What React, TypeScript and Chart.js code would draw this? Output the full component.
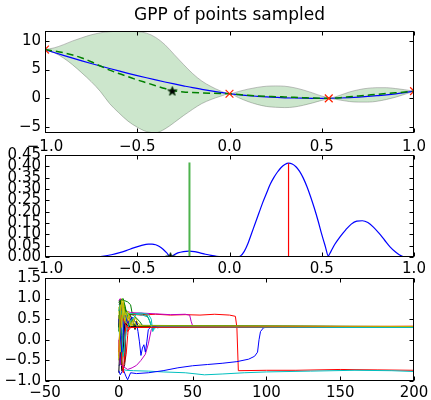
import React, { useEffect, useRef } from "react";
import { Chart, registerables } from "chart.js";

Chart.register(...registerables);

const FONT = "'DejaVu Sans', sans-serif";

// ---------- panel 1: GP posterior ----------
const gridX = [-1, -0.95, -0.9, -0.85, -0.8, -0.75, -0.7, -0.65, -0.6, -0.55, -0.5, -0.45, -0.4, -0.35, -0.3, -0.25, -0.2, -0.15, -0.1, -0.05, 0,
  0.05, 0.1, 0.15, 0.2, 0.25, 0.3, 0.35, 0.4, 0.45, 0.5, 0.55, 0.6, 0.65, 0.7, 0.75, 0.8, 0.85, 0.9, 0.95, 1];
const trueF = [8.45, 7.94, 7.45, 6.97, 6.5, 6.04, 5.6, 5.17, 4.75, 4.34, 3.95, 3.57, 3.2, 2.84, 2.5, 2.17, 1.85, 1.57, 1.3, 1.04, 0.8,
  0.64, 0.47, 0.35, 0.25, 0.17, 0.1, 0.06, 0.03, 0.01, 0.0, 0.02, 0.06, 0.13, 0.22, 0.33, 0.46, 0.6, 0.77, 0.98, 1.25];
const gpMean = [8.45, 8.2, 7.9, 7.5, 7.0, 6.35, 5.6, 4.9, 4.3, 3.75, 3.2, 2.7, 2.2, 1.7, 1.3, 1.1, 1.0, 0.95, 0.9, 0.85, 0.8,
  0.66, 0.52, 0.42, 0.35, 0.3, 0.24, 0.18, 0.12, 0.06, 0.02, 0.03, 0.12, 0.27, 0.42, 0.56, 0.7, 0.83, 0.96, 1.1, 1.25];
const gpUpper = [8.45, 8.75, 9.3, 9.95, 10.5, 11.0, 11.35, 11.55, 11.6, 11.6, 11.55, 11.3, 10.55, 9.3, 7.6, 5.9, 4.3, 3.0, 2.05, 1.3, 0.8,
  1.2, 1.6, 1.9, 2.1, 2.15, 2.1, 1.85, 1.45, 0.95, 0.4, 0.12, 0.55, 1.1, 1.5, 1.75, 1.85, 1.85, 1.7, 1.5, 1.25];
const gpLower = [8.45, 7.9, 7.0, 5.8, 4.4, 2.9, 1.2, -0.9, -2.5, -3.95, -5.0, -5.75, -5.95, -5.3, -4.2, -3.0, -1.9, -0.9, -0.2, 0.35, 0.8,
  0.1, -0.55, -1.05, -1.4, -1.55, -1.6, -1.5, -1.2, -0.8, -0.35, -0.06, -0.3, -0.55, -0.65, -0.65, -0.5, -0.2, 0.2, 0.7, 1.25];
const sampledX = [-1, 0, 0.538, 1];
const sampledY = [8.45, 0.8, 0.0, 1.25];
const nextX = [-0.31];
const nextY = [1.3];
const topXTicks = [-1, -0.5, 0, 0.5, 1];
const topYTicks = [-5, 0, 5, 10];

// ---------- panel 2: acquisition ----------
const acqX = [-1, -0.9, -0.8, -0.72, -0.68, -0.64, -0.6, -0.56, -0.52, -0.48, -0.44, -0.42, -0.4, -0.38, -0.36, -0.34, -0.32, -0.3, -0.28,
  -0.25, -0.22, -0.19, -0.16, -0.13, -0.1, -0.07, -0.04, 0, 0.04, 0.06, 0.08, 0.1, 0.12, 0.14, 0.16, 0.18, 0.2, 0.22, 0.24, 0.26, 0.28,
  0.3, 0.32, 0.34, 0.36, 0.38, 0.4, 0.42, 0.44, 0.46, 0.48, 0.5, 0.52, 0.535, 0.55, 0.57, 0.6, 0.63, 0.66, 0.69, 0.72, 0.75, 0.78, 0.81,
  0.84, 0.87, 0.9, 0.92, 0.94, 0.96, 1];
const acqY = [0, 0, 0, 0.001, 0.004, 0.01, 0.018, 0.028, 0.04, 0.05, 0.057, 0.057, 0.054, 0.046, 0.034, 0.018, 0.0, 0.01, 0.018,
  0.024, 0.026, 0.024, 0.018, 0.012, 0.007, 0.003, 0.001, 0, 0, 0.005, 0.025, 0.06, 0.105, 0.15, 0.195, 0.24, 0.28, 0.32, 0.35, 0.375, 0.395,
  0.408, 0.414, 0.41, 0.398, 0.378, 0.348, 0.31, 0.265, 0.215, 0.16, 0.1, 0.045, 0.005, 0.025, 0.055, 0.09, 0.12, 0.145, 0.158, 0.16, 0.152, 0.132, 0.105,
  0.075, 0.045, 0.022, 0.01, 0.002, 0, 0];
const greenLineX = -0.217;
const greenLineTop = 0.417;
const redLineX = 0.32;
const redLineTop = 0.414;
const acqStarX = [-0.32];
const acqStarY = [0];
const midYTicks = [0, 0.05, 0.1, 0.15, 0.2, 0.25, 0.3, 0.35, 0.4, 0.45];

// ---------- panel 3: optimiser runs ----------
const run01 = [[0, -0.62], [1, -0.6], [2, 0.9], [3, 0.2], [4, 0.6], [5, 0.45], [7, 0.55], [9, 0.38], [11, 0.33], [14, 0.32], [200, 0.32]];
const run02 = [[0, 0.9], [1, 0.98], [2, 0.96], [4, 0.95], [6, 0.92], [8, 0.85], [9, 0.65], [12, 0.63], [16, 0.62], [19, 0.6], [21, 0.45], [22, 0.33], [200, 0.32]];
const run03 = [[0, -0.4], [1, 0.7], [2, 0.2], [3, -0.3], [4, -0.55], [5, -0.35], [6, 0.1], [7, 0.5], [8, 0.62], [15, 0.6], [25, 0.62], [35, 0.6], [45, 0.61],
  [55, 0.6], [65, 0.62], [75, 0.6], [79, 0.57], [80, 0.3], [81, -0.75], [100, -0.74], [120, -0.74], [150, -0.72], [175, -0.73], [200, -0.74]];
const run04 = [[0, 0.85], [1, 0.9], [2, -0.7], [3, -0.72], [5, -0.74], [10, -0.75], [20, -0.76], [30, -0.78], [45, -0.8], [58, -0.85], [70, -0.83],
  [85, -0.8], [100, -0.78], [130, -0.76], [160, -0.74], [185, -0.75], [200, -0.77]];
const run05 = [[0, 0.95], [1, 1.0], [3, 0.8], [5, 0.7], [8, 0.66], [15, 0.65], [25, 0.63], [35, 0.61], [45, 0.62], [48, 0.6], [49, 0.45], [50, 0.34], [200, 0.32]];
const run06 = [[0, -0.5], [1, 0.3], [2, 1.0], [3, 0.5], [4, 0.85], [5, 0.35], [6, 0.6], [8, 0.4], [10, 0.36], [13, 0.33], [200, 0.32]];
const run07 = [[0, -0.8], [1, 0.1], [2, -0.75], [3, -0.7], [4, -0.6], [5, 0.5], [6, 0.6], [8, 0.58], [10, 0.4], [11, 0.25], [12, 0.45], [13, 0.32], [200, 0.32]];
const run08 = [[0, -0.75], [1, -0.85], [3, -0.72], [5, -0.9], [6, -0.97], [8, -0.8], [12, -0.82], [20, -0.8], [30, -0.75], [40, -0.68], [50, -0.63],
  [60, -0.6], [70, -0.57], [80, -0.53], [88, -0.47], [92, -0.4], [94, -0.3], [95, 0.0], [96, 0.2], [98, 0.29], [102, 0.32], [200, 0.32]];
const run09 = [[0, 0.6], [1, 0.2], [2, -0.6], [3, 0.1], [4, 0.8], [5, 0.65], [7, 0.3], [9, 0.5], [11, 0.33], [200, 0.32]];
const run10 = [[0, 0.35], [1, 0.9], [2, -0.5], [3, -0.8], [4, -0.3], [5, 0.6], [6, 0.2], [8, 0.3], [200, 0.32]];
const run11 = [[0, 0.4], [1, -0.2], [2, 0.7], [4, 0.3], [6, 0.64], [10, 0.63], [15, 0.65], [20, 0.62], [22, 0.5], [23, 0.2], [24, 0.35], [26, 0.29], [28, 0.3], [170, 0.3], [200, 0.31]];
const run12 = [[0, 0.0], [1, -0.6], [3, -0.65], [6, -0.72], [9, -0.68], [12, -0.62], [15, -0.5], [18, -0.35], [20, -0.1], [22, 0.25], [24, 0.32], [200, 0.32]];
const run13 = [[0, 0.8], [1, -0.3], [2, 0.55], [3, 0.9], [5, 0.4], [7, 0.65], [9, 0.3], [11, 0.55], [13, 0.4], [16, 0.33], [200, 0.32]];
const run14 = [[0, 0.3], [1, 0.95], [2, 0.1], [3, -0.3], [4, 0.4], [6, 0.35], [8, 0.32], [200, 0.32]];
const run15 = [[0, 0.5], [2, -0.3], [4, 0.6], [6, 0.4], [9, 0.55], [12, 0.4], [13, 0.2], [14, -0.05], [15, -0.38], [16, -0.2], [17, -0.12], [18, -0.3],
  [19, -0.05], [20, 0.25], [22, 0.32], [200, 0.32]];
const run16 = [[0, 0.2], [1, 0.95], [3, 1.0], [5, 0.7], [7, 0.62], [10, 0.6], [14, 0.45], [16, 0.35], [200, 0.32]];
const run17 = [[0, 0.7], [1, 0.85], [3, -0.4], [5, 0.2], [8, 0.45], [12, 0.62], [16, 0.6], [20, 0.55], [23, 0.22], [25, 0.3], [27, 0.31], [200, 0.3]];
const run18 = [[0, -0.3], [1, 0.5], [2, 0.6], [4, 0.4], [6, 0.3], [200, 0.33]];
const run19 = [[0, -0.45], [1, 0.85], [2, 0.3], [3, 0.95], [4, 0.45], [6, 0.7], [8, 0.35], [10, 0.5], [12, 0.34], [200, 0.325]];
const runs = [run01, run02, run03, run04, run05, run06, run07, run08, run09, run10, run11, run12, run13, run14, run15, run16, run17, run18, run19];
const runColors = ["#0000ff", "#008000", "#ff0000", "#00bfbf", "#bf00bf", "#bfbf00", "#000000", "#0000ff", "#008000", "#ff0000",
  "#00bfbf", "#bf00bf", "#bfbf00", "#000000", "#0000ff", "#008000", "#00bfbf", "#ff0000", "#bfbf00"];
const botXTicks = [-50, 0, 50, 100, 150, 200];
const botYTicks = [-1, -0.5, 0, 0.5, 1, 1.5];

// ---------- helpers ----------
const fmt = (v: number, d: number) => (v < -1e-9 ? "\u2212" : "") + Math.abs(v).toFixed(d);
const TICK_SIZE = 15;

function axis(min: number, max: number, ticks: number[], dec: number, pad: number, size: number, horizontal: boolean) {
  return {
    type: "linear",
    min,
    max,
    grid: { display: false, drawTicks: false },
    border: { display: false },
    ticks: {
      color: "#000",
      font: { family: FONT, size: TICK_SIZE },
      padding: pad,
      autoSkip: false,
      maxRotation: 0,
      minRotation: 0,
      callback: (v: number) => fmt(v, dec),
    },
    afterBuildTicks: (s: any) => {
      s.ticks = ticks.map((v) => ({ value: v }));
    },
    afterFit: (s: any) => {
      if (horizontal) s.height = size;
      else s.width = size;
      s.paddingLeft = 0;
      s.paddingRight = 0;
      s.paddingTop = 0;
      s.paddingBottom = 0;
    },
  };
}

const framePlugin = {
  id: "frame",
  afterDatasetsDraw(chart: any) {
    const { ctx, chartArea: a } = chart;
    const xs = chart.scales.x;
    const ys = chart.scales.y;
    const L = Math.round(a.left) + 0.5;
    const R = Math.round(a.right) - 0.5;
    const T = Math.round(a.top) + 0.5;
    const B = Math.round(a.bottom) - 0.5;
    ctx.save();
    ctx.strokeStyle = "#000";
    ctx.lineWidth = 1;
    ctx.beginPath();
    for (const t of xs.ticks) {
      const p = Math.round(xs.getPixelForValue(t.value)) + 0.5;
      ctx.moveTo(p, B);
      ctx.lineTo(p, B - 4);
      ctx.moveTo(p, T);
      ctx.lineTo(p, T + 4);
    }
    for (const t of ys.ticks) {
      const p = Math.round(ys.getPixelForValue(t.value)) + 0.5;
      ctx.moveTo(L, p);
      ctx.lineTo(L + 4, p);
      ctx.moveTo(R, p);
      ctx.lineTo(R - 4, p);
    }
    ctx.stroke();
    ctx.strokeRect(L, T, R - L, B - T);
    ctx.restore();
  },
};

function starImage(size: number, fill: string, stroke: string) {
  const c = document.createElement("canvas");
  c.width = size;
  c.height = size;
  const g = c.getContext("2d")!;
  const cx = size / 2;
  const cy = size / 2 + 0.5;
  const R = size / 2 - 0.5;
  const r = R * 0.42;
  g.beginPath();
  for (let i = 0; i < 10; i++) {
    const ang = -Math.PI / 2 + (i * Math.PI) / 5;
    const rr = i % 2 === 0 ? R : r;
    g.lineTo(cx + rr * Math.cos(ang), cy + rr * Math.sin(ang));
  }
  g.closePath();
  g.fillStyle = fill;
  g.fill();
  g.strokeStyle = stroke;
  g.lineWidth = 0.8;
  g.stroke();
  return c;
}

const pts = (xs: number[], ys: number[]) => xs.map((x, i) => ({ x, y: ys[i] }));

function baseOptions(padTop: number, padBottom: number) {
  return {
    responsive: false,
    maintainAspectRatio: false,
    animation: false,
    devicePixelRatio: 1,
    layout: { padding: { left: 0, right: 17, top: padTop, bottom: padBottom } },
    plugins: { legend: { display: false }, tooltip: { enabled: false }, title: { display: false } },
    elements: { point: { radius: 0 } },
  } as any;
}

export default function App() {
  const c1 = useRef<HTMLCanvasElement>(null);
  const c2 = useRef<HTMLCanvasElement>(null);
  const c3 = useRef<HTMLCanvasElement>(null);

  useEffect(() => {
    Chart.defaults.font.family = FONT;
    Chart.defaults.color = "#000";
    const star = starImage(11, "#000", "#114411");

    // ---- top ----
    const o1 = baseOptions(0, 247);
    o1.plugins.title = {
      display: true,
      text: "GPP of points sampled",
      color: "#000",
      fullSize: false,
      font: { family: FONT, size: 17, weight: "normal" },
      padding: { top: 5, bottom: 6 },
    };
    o1.scales = {
      x: axis(-1, 1, topXTicks, 1, 5, 20, true),
      y: axis(-6, 11.6, topYTicks, 0, 4, 45, false),
    };
    const chart1 = new Chart(c1.current!, {
      type: "line",
      data: {
        datasets: [
          { data: pts(sampledX, sampledY), showLine: false, pointStyle: "crossRot", pointRadius: 5.5, pointBorderColor: "#ff2200", pointBorderWidth: 1.2, borderColor: "#ff2200", order: 0, clip: 0 },
          { data: pts(nextX, nextY), showLine: false, pointStyle: star, pointRadius: 5, order: 0, clip: 0 },
          { data: pts(gridX, gpMean), borderColor: "#008000", borderWidth: 1.5, borderDash: [7, 4], cubicInterpolationMode: "monotone", fill: false, order: 1, clip: 0 },
          { data: pts(gridX, trueF), borderColor: "#0000ff", borderWidth: 1.2, cubicInterpolationMode: "monotone", fill: false, order: 2, clip: 0 },
          { data: pts(gridX, gpUpper), borderColor: "rgba(140,140,140,0.55)", borderWidth: 1, backgroundColor: "rgba(0,128,0,0.2)", cubicInterpolationMode: "monotone", fill: "+1", order: 3, clip: 0 },
          { data: pts(gridX, gpLower), borderColor: "rgba(140,140,140,0.55)", borderWidth: 1, cubicInterpolationMode: "monotone", fill: false, order: 4, clip: 0 },
        ],
      },
      options: o1,
      plugins: [framePlugin],
    } as any);

    // ---- middle ----
    const o2 = baseOptions(155, 123);
    o2.scales = {
      x: axis(-1, 1, topXTicks, 1, 3, 20, true),
      y: axis(0, 0.45, midYTicks, 2, 4, 45, false),
    };
    const chart2 = new Chart(c2.current!, {
      type: "line",
      data: {
        datasets: [
          { data: pts(acqStarX, acqStarY), showLine: false, pointStyle: star, pointRadius: 5, order: 0, clip: 0 },
          { data: [{ x: redLineX, y: 0 }, { x: redLineX, y: redLineTop }], borderColor: "#ff0000", borderWidth: 1.2, order: 1, clip: 0 },
          { data: [{ x: greenLineX, y: 0 }, { x: greenLineX, y: greenLineTop }], borderColor: "#4db34d", borderWidth: 2, order: 2, clip: 0 },
          { data: pts(acqX, acqY), borderColor: "#0000ff", borderWidth: 1.2, cubicInterpolationMode: "monotone", order: 3, clip: 0 },
        ],
      },
      options: o2,
      plugins: [framePlugin],
    } as any);

    // ---- bottom ----
    const o3 = baseOptions(278, 0);
    o3.scales = {
      x: axis(-50, 200, botXTicks, 0, 3, 19, true),
      y: axis(-1, 1.5, botYTicks, 1, 4, 45, false),
    };
    const n = runs.length;
    const chart3 = new Chart(c3.current!, {
      type: "line",
      data: {
        datasets: runs.map((r, i) => ({
          data: r.map(([x, y]) => ({ x, y })),
          borderColor: runColors[i],
          borderWidth: 1,
          order: n - i,
          clip: 0,
        })),
      },
      options: o3,
      plugins: [framePlugin],
    } as any);

    return () => {
      chart1.destroy();
      chart2.destroy();
      chart3.destroy();
    };
  }, []);

  const cs: React.CSSProperties = { position: "absolute", left: 0, top: 0, width: 431, height: 400 };
  return (
    <div style={{ position: "fixed", left: 0, top: 0, width: 431, height: 400, background: "#fff" }}>
      <canvas ref={c3} width={431} height={400} style={cs} />
      <canvas ref={c2} width={431} height={400} style={cs} />
      <canvas ref={c1} width={431} height={400} style={cs} />
    </div>
  );
}
